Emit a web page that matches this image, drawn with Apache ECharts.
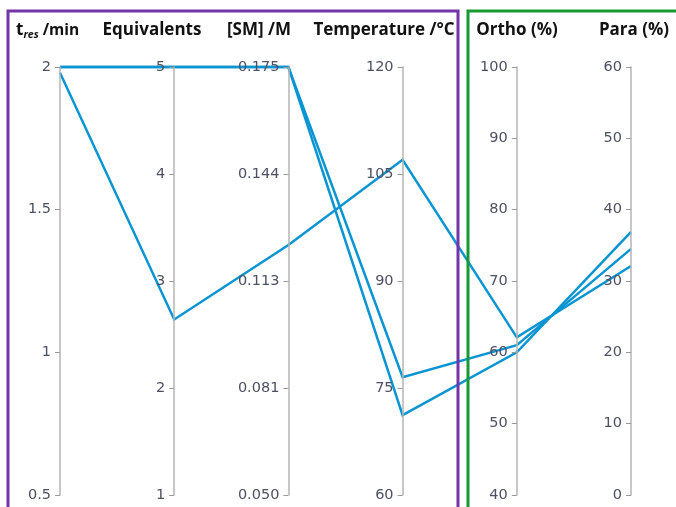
<!DOCTYPE html>
<html>
<head>
<meta charset="utf-8">
<script src="https://cdn.jsdelivr.net/npm/echarts@6/dist/echarts.min.js"></script>
<style>html,body{margin:0;padding:0;background:#fff}#c{width:676px;height:507px}</style>
</head>
<body>
<div id="c"></div>
<script>
const axisTitles = ['t_res /min', 'Equivalents', '[SM] /M', 'Temperature /°C', 'Ortho (%)', 'Para (%)'];
const tres = [2, 2, 1.98];
const equivalents = [5, 5, 2.64];
const smConc = [0.175, 0.175, 0.123];
const temperature = [76.5, 71.2, 107];
const ortho = [61, 60, 62.1];
const para = [34.5, 36.9, 32.1];
const smTickLabels = ['0.050', '0.081', '0.113', '0.144', '0.175'];
const smMin = 0.05, smStep = 0.03125;

const data = tres.map((t, i) => [
  t, equivalents[i], (smConc[i] - smMin) / smStep, temperature[i], ortho[i], para[i]
]);

const chart = echarts.init(document.getElementById('c'), null, {renderer: 'canvas'});
const labelStyle = {color: '#4c5062', fontFamily: '"DejaVu Sans", Verdana, sans-serif', fontSize: 14.5, margin: -9, align: 'right'};
const titleStyle = {fontFamily: 'Open Sans', fontWeight: 'bold', fontSize: 17, fill: '#111'};
const titleX = [48, 152, 259, 384, 517, 634];

chart.setOption({
  animation: false,
  parallel: {
    left: 60, right: 45, top: 67, bottom: 12,
    layout: 'horizontal',
    parallelAxisDefault: {
      type: 'value',
      name: '',
      axisLine: {lineStyle: {color: '#b5b5b5', width: 1.5}},
      axisTick: {lineStyle: {color: '#999', width: 1}, length: -5},
      axisLabel: labelStyle,
      splitLine: {show: false}
    }
  },
  parallelAxis: [
    {dim: 0, min: 0.5, max: 2, interval: 0.5},
    {dim: 1, min: 1, max: 5, interval: 1},
    {dim: 2, min: 0, max: 4, interval: 1, axisLabel: Object.assign({}, labelStyle, {formatter: v => smTickLabels[Math.round(v)]})},
    {dim: 3, min: 60, max: 120, interval: 15},
    {dim: 4, min: 40, max: 100, interval: 10},
    {dim: 5, min: 0, max: 60, interval: 10}
  ],
  series: [{
    type: 'parallel',
    lineStyle: {color: '#0a95d2', width: 2.5, opacity: 1},
    data: data
  }],
  graphic: [
    {type: 'rect', shape: {x: 8, y: 11, width: 450, height: 520}, style: {fill: 'none', stroke: '#7434a8', lineWidth: 3}, z: 100},
    {type: 'rect', shape: {x: 468, y: 11, width: 230, height: 520}, style: {fill: 'none', stroke: '#179a33', lineWidth: 3}, z: 100},
    {type: 'text', left: 16, top: 22, style: {rich: {b: titleStyle, s: {fontFamily: 'Open Sans', fontWeight: 'bold', fontStyle: 'italic', fontSize: 10.5, fill: '#111', padding: [10, 0, 0, 0]}, m: {fontFamily: 'Open Sans', fontWeight: 'bold', fontSize: 15.5, fill: '#111'}}, text: '{b|t}{s|res}{m| /min}'}, z: 100},
  ].concat(axisTitles.slice(1).map((t, i) => ({
    type: 'text', x: titleX[i + 1], y: 30,
    style: Object.assign({text: t, align: 'center', verticalAlign: 'middle'}, titleStyle), z: 100
  })))
});
</script>
</body>
</html>
